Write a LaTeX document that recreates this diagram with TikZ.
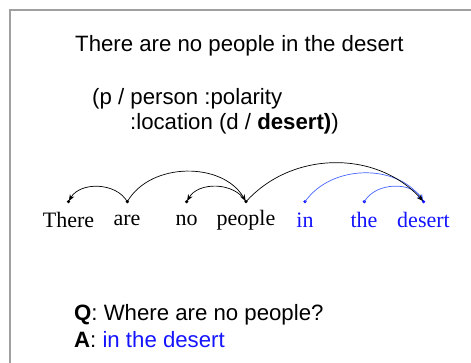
\documentclass[tikz,border=0pt]{standalone}
\usepackage{fontspec}
\setmainfont{Liberation Serif}
\setsansfont{Liberation Sans}
\usetikzlibrary{arrows.meta}
\definecolor{framegray}{RGB}{160,160,160}
\definecolor{txtblue}{RGB}{20,20,255}
\definecolor{arcblue}{RGB}{70,100,255}
\tikzset{
  sanstext/.style={inner sep=0pt, anchor=base west, font=\sffamily\fontsize{22.2}{27}\selectfont},
  word/.style={inner sep=0pt, font=\rmfamily\fontsize{22}{26}\selectfont},
  dot/.style={circle, fill=#1, draw=none, inner sep=0pt, minimum size=3.6pt},
  dep/.style={draw=#1, line width=0.7pt, -{Stealth[length=6.5pt,width=5pt]}, shorten >=0.8pt},
}
\begin{document}
\begin{tikzpicture}[x=1pt,y=1pt]
\useasboundingbox (0,0) rectangle (471,363);
% frame
\draw[framegray, line width=1.5pt] (10,0) -- (10,353) -- (471,353);
% title and AMR
\node[sanstext] (title) at (75,311) {There are no people in the desert};
\node[sanstext] (amr1) at (92,258) {(p / person :polarity};
\node[sanstext] (amr2) at (130,233) {:location (d / \textbf{desert)})};
% words
\node[word] (w1) at (68.5,143) {There};
\node[word] (w2) at (127,143) {are};
\node[word] (w3) at (186.5,143) {no};
\node[word] (w4) at (246,143) {people};
\node[word, text=txtblue] (w5) at (305,143) {in};
\node[word, text=txtblue] (w6) at (364,143) {the};
\node[word, text=txtblue] (w7) at (423.5,143) {desert};
% dots
\node[dot=black] (d1) at (68.5,161.3) {};
\node[dot=black] (d2) at (127.3,161.3) {};
\node[dot=black] (d3) at (186.7,161.3) {};
\node[dot=black] (d4) at (246,161.3) {};
\node[dot=txtblue] (d5) at (305,161.3) {};
\node[dot=txtblue] (d6) at (364.3,161.3) {};
\node[dot=txtblue] (d7) at (423.5,161.3) {};
% arcs
\draw[dep=arcblue] (d5.center) to[out=55,in=125] (d7.center);
\draw[dep=arcblue] (d6.center) to[out=60,in=120] (d7.center);
\draw[dep=black] (d2.center) to[out=120,in=60] (d1.center);
\draw[dep=black] (d2.center) to[out=60,in=120] (d4.center);
\draw[dep=black] (d4.center) to[out=120,in=60] (d3.center);
\draw[dep=black] (d4.center) to[out=48,in=132] (d7.center);
% Q and A
\node[sanstext] (q) at (74,42) {\textbf{Q}: Where are no people?};
\node[sanstext] (a) at (74,15) {\textbf{A}: \textcolor{txtblue}{in the desert}};
\end{tikzpicture}
\end{document}
